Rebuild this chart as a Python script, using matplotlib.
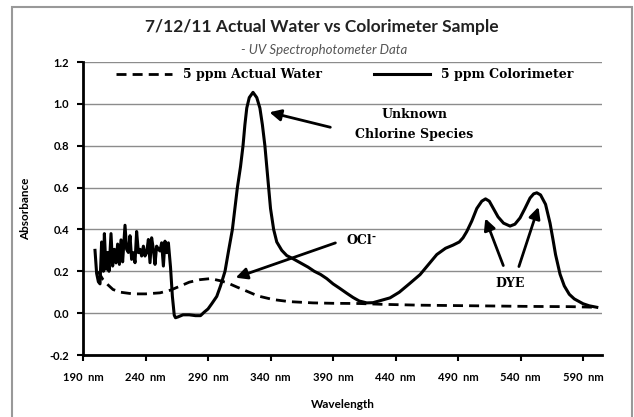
import numpy as np
import matplotlib
matplotlib.use("Agg")
import matplotlib.pyplot as plt
from matplotlib.patches import Rectangle

# 5 ppm Colorimeter - noisy part at short wavelengths
noise_nm = [199.6, 200.9, 202.3, 203.6, 204.9, 206.3, 207.1, 208.4, 209.7,
            210.8, 212.4, 213.7, 215.1, 216.4, 217.7, 219.1, 220.4, 221.7,
            223.6, 224.9, 226.3, 227.6, 228.9, 230.3, 231.6, 232.9, 234.3,
            235.6, 236.9, 238.3, 239.6, 240.9, 242.3, 243.6, 244.9, 246.3,
            247.6, 248.9, 250.3, 251.6, 252.9, 254.3, 255.6, 256.9, 258.3]
noise_abs = [0.30, 0.19, 0.15, 0.14, 0.34, 0.20, 0.38, 0.21, 0.29, 0.20,
             0.38, 0.225, 0.305, 0.24, 0.33, 0.233, 0.35, 0.245, 0.42, 0.305,
             0.29, 0.37, 0.257, 0.289, 0.241, 0.39, 0.289, 0.305, 0.273,
             0.32, 0.273, 0.289, 0.352, 0.241, 0.36, 0.305, 0.233, 0.32,
             0.305, 0.297, 0.336, 0.225, 0.344, 0.289, 0.336]

# 5 ppm Colorimeter - smooth part
smooth_nm = [260, 261.5, 263, 264, 266, 270, 275, 280, 284, 287, 290, 293, 297,
             300, 303.6, 306.5, 309.5, 311.5, 313.5, 316, 318, 319.5, 321, 323,
             326, 329, 331.5, 333.5, 335.5, 337, 338.5, 340, 342.5, 345, 349,
             353, 358, 364, 370, 375, 380, 385, 390, 395, 401, 406, 411, 417,
             422, 428, 435.6, 443, 451, 459.6, 466, 473, 480, 486, 491, 494,
             497, 501, 505, 509, 512, 515, 518.3, 522, 526.4, 531.6, 535.5,
             539.6, 543.5, 547.6, 550.5, 553, 556, 560, 563.6, 566, 568, 571.6,
             575, 579, 583, 590, 595, 601]
smooth_abs = [0.22, 0.08, -0.01, -0.022, -0.018, -0.008, -0.008, -0.012, -0.012,
              0.005, 0.02, 0.045, 0.08, 0.13, 0.20, 0.30, 0.40, 0.50, 0.60, 0.70,
              0.80, 0.90, 0.98, 1.03, 1.055, 1.03, 0.98, 0.90, 0.80, 0.70, 0.60,
              0.50, 0.40, 0.34, 0.30, 0.275, 0.26, 0.24, 0.22, 0.20, 0.185,
              0.165, 0.14, 0.12, 0.095, 0.075, 0.058, 0.049, 0.05, 0.06, 0.073,
              0.10, 0.14, 0.184, 0.23, 0.28, 0.31, 0.325, 0.34, 0.36, 0.39,
              0.44, 0.50, 0.535, 0.546, 0.535, 0.50, 0.46, 0.43, 0.416, 0.425,
              0.455, 0.50, 0.55, 0.57, 0.575, 0.565, 0.52, 0.43, 0.35, 0.28,
              0.186, 0.13, 0.09, 0.068, 0.045, 0.035, 0.028]

colorimeter_nm = noise_nm + smooth_nm
colorimeter_abs = noise_abs + smooth_abs

# 5 ppm Actual Water
water_nm = [202, 204, 206, 210, 214, 220, 230, 240, 251.6, 260, 267.6, 275,
            283.6, 292, 299.6, 305, 313, 321, 330, 342, 355, 374, 390, 411,
            430, 460, 490, 520, 550, 580, 601]
water_abs = [0.20, 0.18, 0.16, 0.135, 0.113, 0.10, 0.092, 0.092, 0.097, 0.11,
             0.129, 0.148, 0.16, 0.165, 0.155, 0.146, 0.125, 0.105, 0.082,
             0.065, 0.055, 0.049, 0.047, 0.046, 0.042, 0.038, 0.036, 0.034,
             0.032, 0.031, 0.028]

x_ticks = np.arange(190, 591, 50)
y_ticks = np.arange(-0.2, 1.21, 0.2)

sans = "Lato"
serif = "DejaVu Serif"

fig = plt.figure(figsize=(6.34, 4.17), dpi=100)
ax = fig.add_axes([83 / 634, 1 - 355 / 417, (602.3 - 83) / 634, (355 - 62) / 417])

ax.plot(water_nm, water_abs, color="black", lw=2, dashes=(3.6, 2.2),
        label="5 ppm Actual Water")
ax.plot(colorimeter_nm, colorimeter_abs, color="black", lw=2.2,
        label="5 ppm Colorimeter")

ax.set_xlim(190, 605.4)
ax.set_ylim(-0.2, 1.2)
ax.set_xticks(x_ticks)
ax.set_xticklabels([f"{t}  nm" for t in x_ticks])
ax.set_yticks(y_ticks)
ax.set_yticklabels([f"{t:.1f}" for t in y_ticks])
for lab in ax.get_xticklabels() + ax.get_yticklabels():
    lab.set_fontfamily(sans)
    lab.set_fontweight("bold")
    lab.set_fontsize(8)
ax.tick_params(direction="out", length=4, width=1.5, color="black")
ax.tick_params(axis="x", pad=8)
ax.tick_params(axis="y", pad=6)

ax.grid(axis="y", color="#8c8c8c", lw=1)
ax.set_axisbelow(True)
for s in ["top", "right"]:
    ax.spines[s].set_visible(False)
for s in ["left", "bottom"]:
    ax.spines[s].set_linewidth(2)

ax.set_xlabel("Wavelength", fontfamily=sans, fontweight="bold", fontsize=8.5,
              labelpad=12)
ax.set_ylabel("Absorbance", fontfamily=sans, fontweight="bold", fontsize=8.5,
              labelpad=13)

leg = ax.legend(ncol=2, loc="center", bbox_to_anchor=(0.5035, 0.956),
                frameon=False, handlelength=4.5, handletextpad=0.85,
                columnspacing=4.2,
                prop={"family": serif, "weight": "bold", "size": 9})

fig.text(321.5 / 634, 1 - 26.7 / 417, "7/12/11 Actual Water vs Colorimeter Sample",
         ha="center", va="center", fontfamily=sans, fontweight="bold",
         fontsize=12.5, color="#222222")
fig.text(324 / 634, 1 - 50 / 417, "- UV Spectrophotometer Data", ha="center",
         va="center", fontfamily=sans, style="italic", fontsize=9.5,
         color="#555555")

arrow = dict(arrowstyle="-|>", color="black", lw=2, mutation_scale=17)
txt = dict(fontfamily=serif, fontweight="bold", fontsize=9, ha="center",
           va="center")

ax.annotate("", xy=(337, 0.963), xytext=(390, 0.885), arrowprops=arrow)
ax.text(455, 0.95, "Unknown", **txt)
ax.text(455, 0.855, "Chlorine Species", **txt)

ax.annotate("", xy=(310, 0.165), xytext=(394, 0.34), arrowprops=arrow)
ax.text(411, 0.345, "OCl", **txt)
ax.text(421, 0.365, "-", fontfamily=serif, fontweight="bold", fontsize=7,
        ha="left", va="center")

ax.annotate("", xy=(511, 0.465), xytext=(527, 0.215), arrowprops=arrow)
ax.annotate("", xy=(555, 0.52), xytext=(538, 0.21), arrowprops=arrow)
ax.text(532, 0.14, "DYE", **txt)

fig.patches.append(Rectangle((12 / 634, -0.01), (632 - 12) / 634, 1.01 - 7 / 417,
                             transform=fig.transFigure, fill=False,
                             edgecolor="#999999", lw=1.5))

fig.savefig("out.png", dpi=100)
